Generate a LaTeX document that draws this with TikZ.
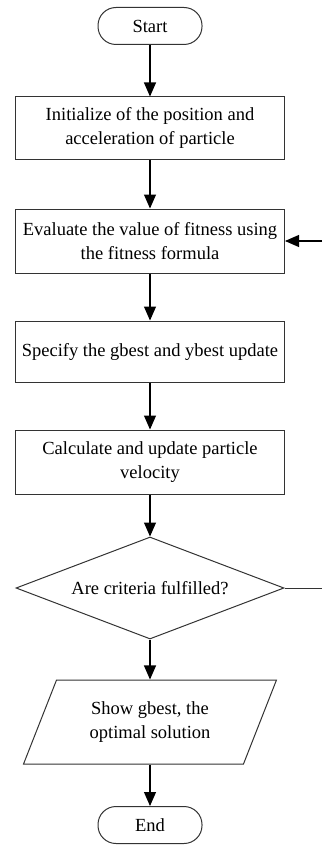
\documentclass[tikz,border=0pt]{standalone}
\usepackage{fontspec}
\setmainfont{Liberation Serif}
\usetikzlibrary{arrows.meta,shapes.geometric}
\begin{document}
\begin{tikzpicture}[x=1pt,y=-1pt,
  every node/.style={font=\fontsize{18.5}{24}\selectfont, align=center, inner sep=0pt, line width=1pt, draw=black!80},
  procbox/.style={rectangle, minimum width=269pt},
  termbox/.style={rectangle, rounded corners=18pt, minimum width=104pt, minimum height=37pt},
  decbox/.style={diamond, aspect=2.6, minimum width=268pt, minimum height=102pt},
  iobox/.style={trapezium, trapezium left angle=62.4, trapezium right angle=117.6, trapezium stretches=true, minimum width=253pt, minimum height=84pt},
  flow/.style={-{Triangle[length=14pt,width=12pt]}, line width=1.1pt, black}
]
\useasboundingbox (0,0) rectangle (322,848);
\node[termbox] (start) at (150,26) {Start};
\node[procbox, minimum height=62pt] (init) at (150,128) {Initialize of the position and\\acceleration of particle};
\node[procbox, minimum height=64pt] (eval) at (150,241) {Evaluate the value of fitness using\\the fitness formula};
\node[procbox, minimum height=61pt] (spec) at (150,351.5) {Specify the gbest and ybest update};
\node[procbox, minimum height=64pt] (calc) at (150,462) {Calculate and update particle\\velocity};
\node[decbox] (dec) at (150,588) {Are criteria fulfilled?};
\node[iobox] (show) at (150,722) {Show gbest, the\\optimal solution};
\node[termbox] (end) at (150,825) {End};
\coordinate (fbin) at (322,241);
\coordinate (fbout) at (322,588);
\draw[flow] (start) -- (init);
\draw[flow] (init) -- (eval);
\draw[flow] (eval) -- (spec);
\draw[flow] (spec) -- (calc);
\draw[flow] (calc) -- (dec);
\draw[flow] (dec) -- (show);
\draw[flow] (show) -- (end);
\draw[flow] (fbin) -- (eval.east);
\draw[line width=1pt, black!80] (dec.east) -- (fbout);
\end{tikzpicture}
\end{document}
